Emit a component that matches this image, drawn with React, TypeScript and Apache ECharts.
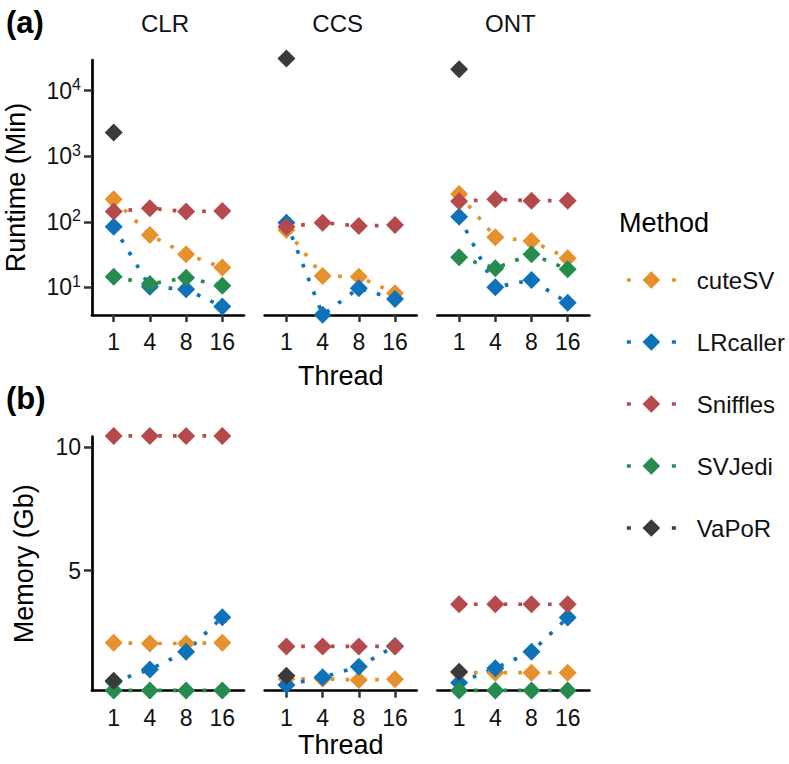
import React, { useEffect, useRef } from "react";
import * as echarts from "echarts";

const threads = ["1", "4", "8", "16"];
const methods = ["cuteSV", "LRcaller", "Sniffles", "SVJedi", "VaPoR"];
const methodColors = ["#E6912C", "#0E72BA", "#B6494B", "#258B4E", "#3A3A3A"];
const platforms = ["CLR", "CCS", "ONT"];

// Runtime (Min), rows follow `methods`, columns follow `threads`
const runtimeCLR = [
  [220, 63, 32, 20],
  [84, 10.2, 9.3, 5.1],
  [143, 161, 143, 146],
  [14.5, 11.2, 14, 10.6],
  [2300, null, null, null],
];
const runtimeCCS = [
  [75, 14.9, 14.5, 8.1],
  [97, 3.8, 9.7, 6.6],
  [84, 97, 86, 89],
  [null, null, null, null],
  [31000, null, null, null],
];
const runtimeONT = [
  [265, 58, 51, 27.7],
  [119, 10, 12.9, 5.8],
  [205, 220, 210, 210],
  [28.7, 19.5, 32, 18.8],
  [21200, null, null, null],
];

// Memory (Gb)
const memoryCLR = [
  [2.08, 2.05, 2.05, 2.08],
  [0.5, 1.0, 1.72, 3.11],
  [10.46, 10.46, 10.46, 10.46],
  [0.15, 0.15, 0.15, 0.15],
  [0.54, null, null, null],
];
const memoryCCS = [
  [0.61, 0.62, 0.57, 0.6],
  [0.37, 0.68, 1.11, 1.95],
  [1.93, 1.93, 1.93, 1.93],
  [null, null, null, null],
  [0.74, null, null, null],
];
const memoryONT = [
  [0.87, 0.87, 0.87, 0.87],
  [0.46, 1.05, 1.72, 3.1],
  [3.64, 3.64, 3.64, 3.64],
  [0.15, 0.15, 0.15, 0.15],
  [0.91, null, null, null],
];

const runtimeTicks = [10, 100, 1000, 10000];
const memoryTicks = [5, 10];

const FONT = "'Liberation Sans', Arial, Helvetica, sans-serif";

export default function App() {
  const ref = useRef<HTMLDivElement>(null);

  useEffect(() => {
    document.body.style.margin = "0";
    if (!ref.current) return;
    const chart = echarts.init(ref.current, null, { renderer: "svg" });

    const panels = [runtimeCLR, runtimeCCS, runtimeONT, memoryCLR, memoryCCS, memoryONT];
    const gridLefts = [92, 264.7, 437.4];
    const gridWidth = 152;

    const grids: any[] = [];
    const xAxes: any[] = [];
    const yAxes: any[] = [];
    panels.forEach((_, p) => {
      const row = p < 3 ? 0 : 1;
      const col = p % 3;
      grids.push({
        left: gridLefts[col],
        width: gridWidth,
        top: row === 0 ? 60 : 436.7,
        height: row === 0 ? 255 : 254,
        containLabel: false,
      });
      xAxes.push({
        type: "value",
        gridIndex: p,
        min: -0.6,
        max: 3.6,
        name: col === 1 ? "Thread" : "",
        nameLocation: "middle",
        nameGap: row === 0 ? 47 : 41,
        nameTextStyle: { fontSize: 27, color: "#000", fontFamily: FONT },
        axisLine: { show: true, onZero: false, lineStyle: { color: "#000", width: 2.7 } },
        axisTick: {
          show: true,
          customValues: [0, 1, 2, 3],
          length: 7,
          lineStyle: { color: "#333", width: 2.5 },
        },
        axisLabel: {
          customValues: [0, 1, 2, 3],
          formatter: (v: number) => threads[Math.round(v)],
          fontSize: 23,
          color: "#111",
          fontFamily: FONT,
          margin: row === 0 ? 15 : 16,
        },
        splitLine: { show: false },
      });
      const showY = col === 0;
      if (row === 0) {
        yAxes.push({
          type: "log",
          gridIndex: p,
          min: 3.776,
          max: 29440,
          show: showY,
          name: showY ? "Runtime (Min)" : "",
          nameLocation: "middle",
          nameGap: 63,
          nameTextStyle: { fontSize: 27, color: "#000", fontFamily: FONT },
          axisLine: { show: showY, onZero: false, lineStyle: { color: "#000", width: 2.7 } },
          axisTick: {
            show: showY,
            customValues: runtimeTicks,
            length: 8,
            lineStyle: { color: "#333", width: 2.5 },
          },
          axisLabel: {
            show: showY,
            customValues: runtimeTicks,
            formatter: (v: number) => "10{sup|" + Math.round(Math.log10(v)) + "}",
            fontSize: 23,
            color: "#111",
            fontFamily: FONT,
            margin: 11,
            rich: {
              sup: { fontSize: 16, color: "#111", fontFamily: FONT, padding: [0, 0, 12, 0] },
            },
          },
          splitLine: { show: false },
          minorTick: { show: false },
        });
      } else {
        yAxes.push({
          type: "value",
          gridIndex: p,
          min: 0.138,
          max: 10.43,
          show: showY,
          name: showY ? "Memory (Gb)" : "",
          nameLocation: "middle",
          nameGap: 55,
          nameTextStyle: { fontSize: 27, color: "#000", fontFamily: FONT },
          axisLine: { show: showY, onZero: false, lineStyle: { color: "#000", width: 2.7 } },
          axisTick: {
            show: showY,
            customValues: memoryTicks,
            length: 8,
            lineStyle: { color: "#333", width: 2.5 },
          },
          axisLabel: {
            show: showY,
            customValues: memoryTicks,
            fontSize: 23,
            color: "#111",
            fontFamily: FONT,
            margin: 11,
          },
          splitLine: { show: false },
        });
      }
    });

    const lineSeries: any[] = [];
    const pointSeries: any[] = [];
    panels.forEach((panel, p) => {
      methods.forEach((m, mi) => {
        const pts = panel[mi]
          .map((v, i) => (v == null ? null : [i, v]))
          .filter((d) => d != null);
        if (pts.length === 0) return;
        lineSeries.push({
          type: "line",
          name: m,
          xAxisIndex: p,
          yAxisIndex: p,
          data: pts,
          symbol: "diamond",
          showSymbol: false,
          clip: false,
          z: 2,
          silent: true,
          lineStyle: { color: methodColors[mi], width: 3.7, type: [3.7, 11.1], cap: "butt" },
          itemStyle: { color: methodColors[mi] },
        });
        pointSeries.push({
          type: "scatter",
          name: m,
          xAxisIndex: p,
          yAxisIndex: p,
          data: pts,
          symbol: "diamond",
          symbolSize: 18,
          clip: false,
          z: 3,
          itemStyle: { color: methodColors[mi], opacity: 1 },
        });
      });
    });

    const stripCenters = gridLefts.map((l) => l + gridWidth / 2 - 3);
    const graphics: any[] = [
      ...platforms.map((t, i) => ({
        type: "text",
        x: stripCenters[i],
        y: 23,
        style: { text: t, font: `24px ${FONT}`, fill: "#111", textAlign: "center", textVerticalAlign: "middle" },
      })),
      {
        type: "text",
        x: 6,
        y: 22,
        style: { text: "(a)", font: `bold 31px ${FONT}`, fill: "#000", textAlign: "left", textVerticalAlign: "middle" },
      },
      {
        type: "text",
        x: 6,
        y: 398,
        style: { text: "(b)", font: `bold 31px ${FONT}`, fill: "#000", textAlign: "left", textVerticalAlign: "middle" },
      },
      {
        type: "text",
        x: 619,
        y: 223,
        style: { text: "Method", font: `27px ${FONT}`, fill: "#000", textAlign: "left", textVerticalAlign: "middle" },
      },
    ];

    chart.setOption({
      animation: false,
      backgroundColor: "#fff",
      textStyle: { fontFamily: FONT },
      grid: grids,
      xAxis: xAxes,
      yAxis: yAxes,
      legend: {
        data: methods,
        orient: "vertical",
        left: 625,
        top: 268,
        padding: 0,
        itemWidth: 49,
        itemHeight: 22,
        itemGap: 38,
        lineStyle: { width: 3.7, type: [4, 41], cap: "butt" },
        textStyle: { fontSize: 24, color: "#111", fontFamily: FONT, padding: [0, 0, 0, 16], lineHeight: 24 },
      },
      graphic: graphics,
      series: [...lineSeries, ...pointSeries],
    });

    return () => chart.dispose();
  }, []);

  return <div ref={ref} style={{ width: 789, height: 764 }} />;
}
